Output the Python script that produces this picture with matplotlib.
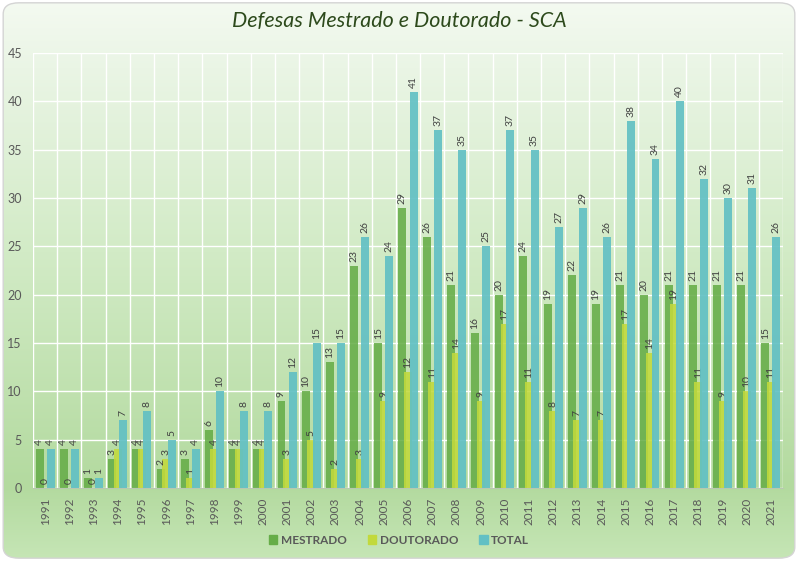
import matplotlib.pyplot as plt
import numpy as np
from matplotlib.colors import LinearSegmentedColormap
from matplotlib.patches import FancyBboxPatch, Patch

anos = [str(a) for a in range(1991, 2022)]
mestrado = [4, 4, 1, 3, 4, 2, 3, 6, 4, 4, 9, 10, 13, 23, 15, 29, 26, 21, 16, 20,
            24, 19, 22, 19, 21, 20, 21, 21, 21, 21, 15]
doutorado = [0, 0, 0, 4, 4, 3, 1, 4, 4, 4, 3, 5, 2, 3, 9, 12, 11, 14, 9, 17,
             11, 8, 7, 7, 17, 14, 19, 11, 9, 10, 11]
total = [4, 4, 1, 7, 8, 5, 4, 10, 8, 8, 12, 15, 15, 26, 24, 41, 37, 35, 25, 37,
         35, 27, 29, 26, 38, 34, 40, 32, 30, 31, 26]

plt.rcParams['font.family'] = ['Lato', 'DejaVu Sans']

fig = plt.figure(figsize=(7.98, 5.61), dpi=100)
fig.patch.set_facecolor('white')

# gradient background with rounded border
bg = fig.add_axes([0, 0, 1, 1], zorder=-10)
bg.set_xlim(0, 1)
bg.set_ylim(0, 1)
bg.axis('off')
cmap = LinearSegmentedColormap.from_list(
    'bg', [(0.0, '#c6e6b6'), (0.13, '#b3da9f'), (0.55, '#d2ebc6'),
           (0.88, '#eaf5e5'), (1.0, '#f4faf1')])
grad = np.linspace(0, 1, 256).reshape(-1, 1)
im = bg.imshow(grad, extent=[0, 1, 0, 1], origin='lower', aspect='auto', cmap=cmap)
frame = FancyBboxPatch((0.004, 0.005), 0.992, 0.99,
                       boxstyle='round,pad=0,rounding_size=0.02',
                       transform=bg.transAxes, fill=False,
                       edgecolor='#d4d4d4', linewidth=1)
bg.add_patch(frame)
im.set_clip_path(frame)

ax = fig.add_axes([0.0414, 0.130, 0.9398, 0.7755])
ax.set_facecolor('none')

x = np.arange(len(anos))
w = 0.33
off = 0.23
b1 = ax.bar(x - off, mestrado, w, color='#66ad48', alpha=0.88, label='MESTRADO', zorder=2)
b2 = ax.bar(x, doutorado, w, color='#c2d93c', alpha=0.88, label='DOUTORADO', zorder=3)
b3 = ax.bar(x + off, total, w, color='#62c0c4', alpha=0.92, label='TOTAL', zorder=4)
for b in (b1, b2, b3):
    ax.bar_label(b, rotation=90, padding=3, fontsize=7.5, color='#404040')

ax.set_xlim(-0.5, len(anos) - 0.5)
ax.set_ylim(0, 45)
ax.set_yticks(range(0, 46, 5))
ax.set_xticks(x)
ax.set_xticklabels(anos, rotation=90, fontsize=8.5, color='#595959')
ax.set_xticks(np.arange(-0.5, len(anos)), minor=True)
ax.tick_params(axis='y', labelsize=9, labelcolor='#595959', length=0, pad=8)
ax.tick_params(axis='x', which='both', length=0, pad=7)
ax.grid(axis='y', color='white', linewidth=1, zorder=1)
ax.grid(axis='x', which='minor', color='white', linewidth=1, zorder=1)
ax.set_axisbelow(True)
for s in ('top', 'right', 'left'):
    ax.spines[s].set_visible(False)
ax.spines['bottom'].set_color('#b8c8b0')

fig.text(0.5, 0.962, 'Defesas Mestrado e Doutorado - SCA', ha='center', va='center',
         fontsize=15.5, style='italic', color='#2d4a1c')

handles = [Patch(color='#66ad48'), Patch(color='#c2d93c'), Patch(color='#62c0c4')]
fig.legend(handles, ['MESTRADO', 'DOUTORADO', 'TOTAL'], loc='center',
           bbox_to_anchor=(0.5, 0.037), ncol=3, frameon=False,
           handlelength=0.7, handleheight=0.7, handletextpad=0.3, columnspacing=1.8,
           prop={'size': 8.5, 'weight': 'bold'}, labelcolor='#595959')

fig.savefig('out.png', dpi=100)
